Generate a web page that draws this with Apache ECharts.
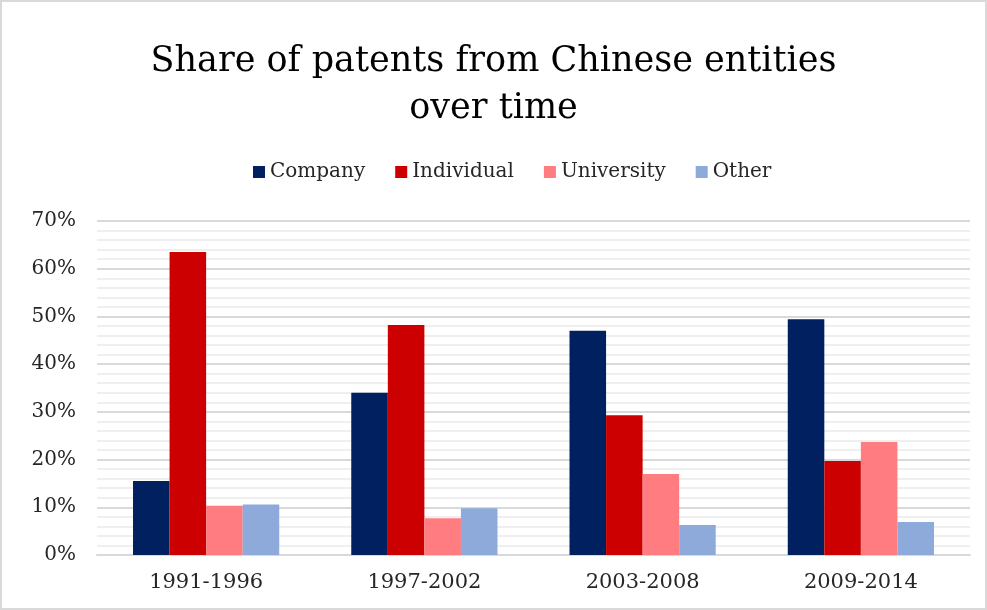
<!DOCTYPE html>
<html><head><meta charset="utf-8">
<script src="https://cdn.jsdelivr.net/npm/echarts@6/dist/echarts.min.js"></script>
<style>html,body{margin:0;padding:0;background:#fff}#c{width:987px;height:610px}</style>
</head><body><div id="c"></div>
<script>
const categories = ['1991-1996','1997-2002','2003-2008','2009-2014'];
const seriesNames = ['Company','Individual','University','Other'];
const company = [15.5, 34.0, 47.0, 49.4];
const individual = [63.5, 48.2, 29.3, 19.7];
const university = [10.3, 7.7, 17.0, 23.7];
const other = [10.6, 9.8, 6.3, 6.9];
const yTicks = [0,10,20,30,40,50,60,70];
const colors = ['#002060','#cc0000','#ff7c80','#8eaadb'];
const values = [company, individual, university, other];
const font = '"DejaVu Serif", serif';
const chart = echarts.init(document.getElementById('c'));
chart.setOption({
  animation:false,
  title:{text:'Share of patents from Chinese entities\nover time',left:'center',top:33,
    textStyle:{fontFamily:font,fontSize:35,fontWeight:'normal',color:'#000',lineHeight:47}},
  legend:{top:157,left:248,itemWidth:12,itemHeight:12,itemGap:30,icon:'rect',
    textStyle:{fontFamily:font,fontSize:20,color:'#262626'},data:seriesNames},
  grid:{left:97,right:17,top:221,bottom:55},
  xAxis:{type:'category',data:categories,axisTick:{show:false},
    axisLine:{lineStyle:{color:'#d9d9d9',width:2}},
    axisLabel:{fontFamily:font,fontSize:21,color:'#262626',margin:17}},
  yAxis:{type:'value',min:yTicks[0],max:yTicks[yTicks.length-1],interval:10,
    axisLabel:{formatter:'{value}%',fontFamily:font,fontSize:20,color:'#262626',margin:21},
    splitLine:{lineStyle:{color:'#d9d9d9',width:2}},
    minorTick:{show:false,splitNumber:5},
    minorSplitLine:{show:true,lineStyle:{color:'#efefef',width:2}},
    axisLine:{show:false},axisTick:{show:false}},
  series: seriesNames.map((n,i)=>({name:n,type:'bar',data:values[i],barGap:'0%',barCategoryGap:'33%',
    itemStyle:{color:colors[i]}})),
  graphic:[{type:'rect',shape:{x:1,y:1,width:985,height:608},style:{fill:'none',stroke:'#d9d9d9',lineWidth:2},silent:true}]
});
</script></body></html>
